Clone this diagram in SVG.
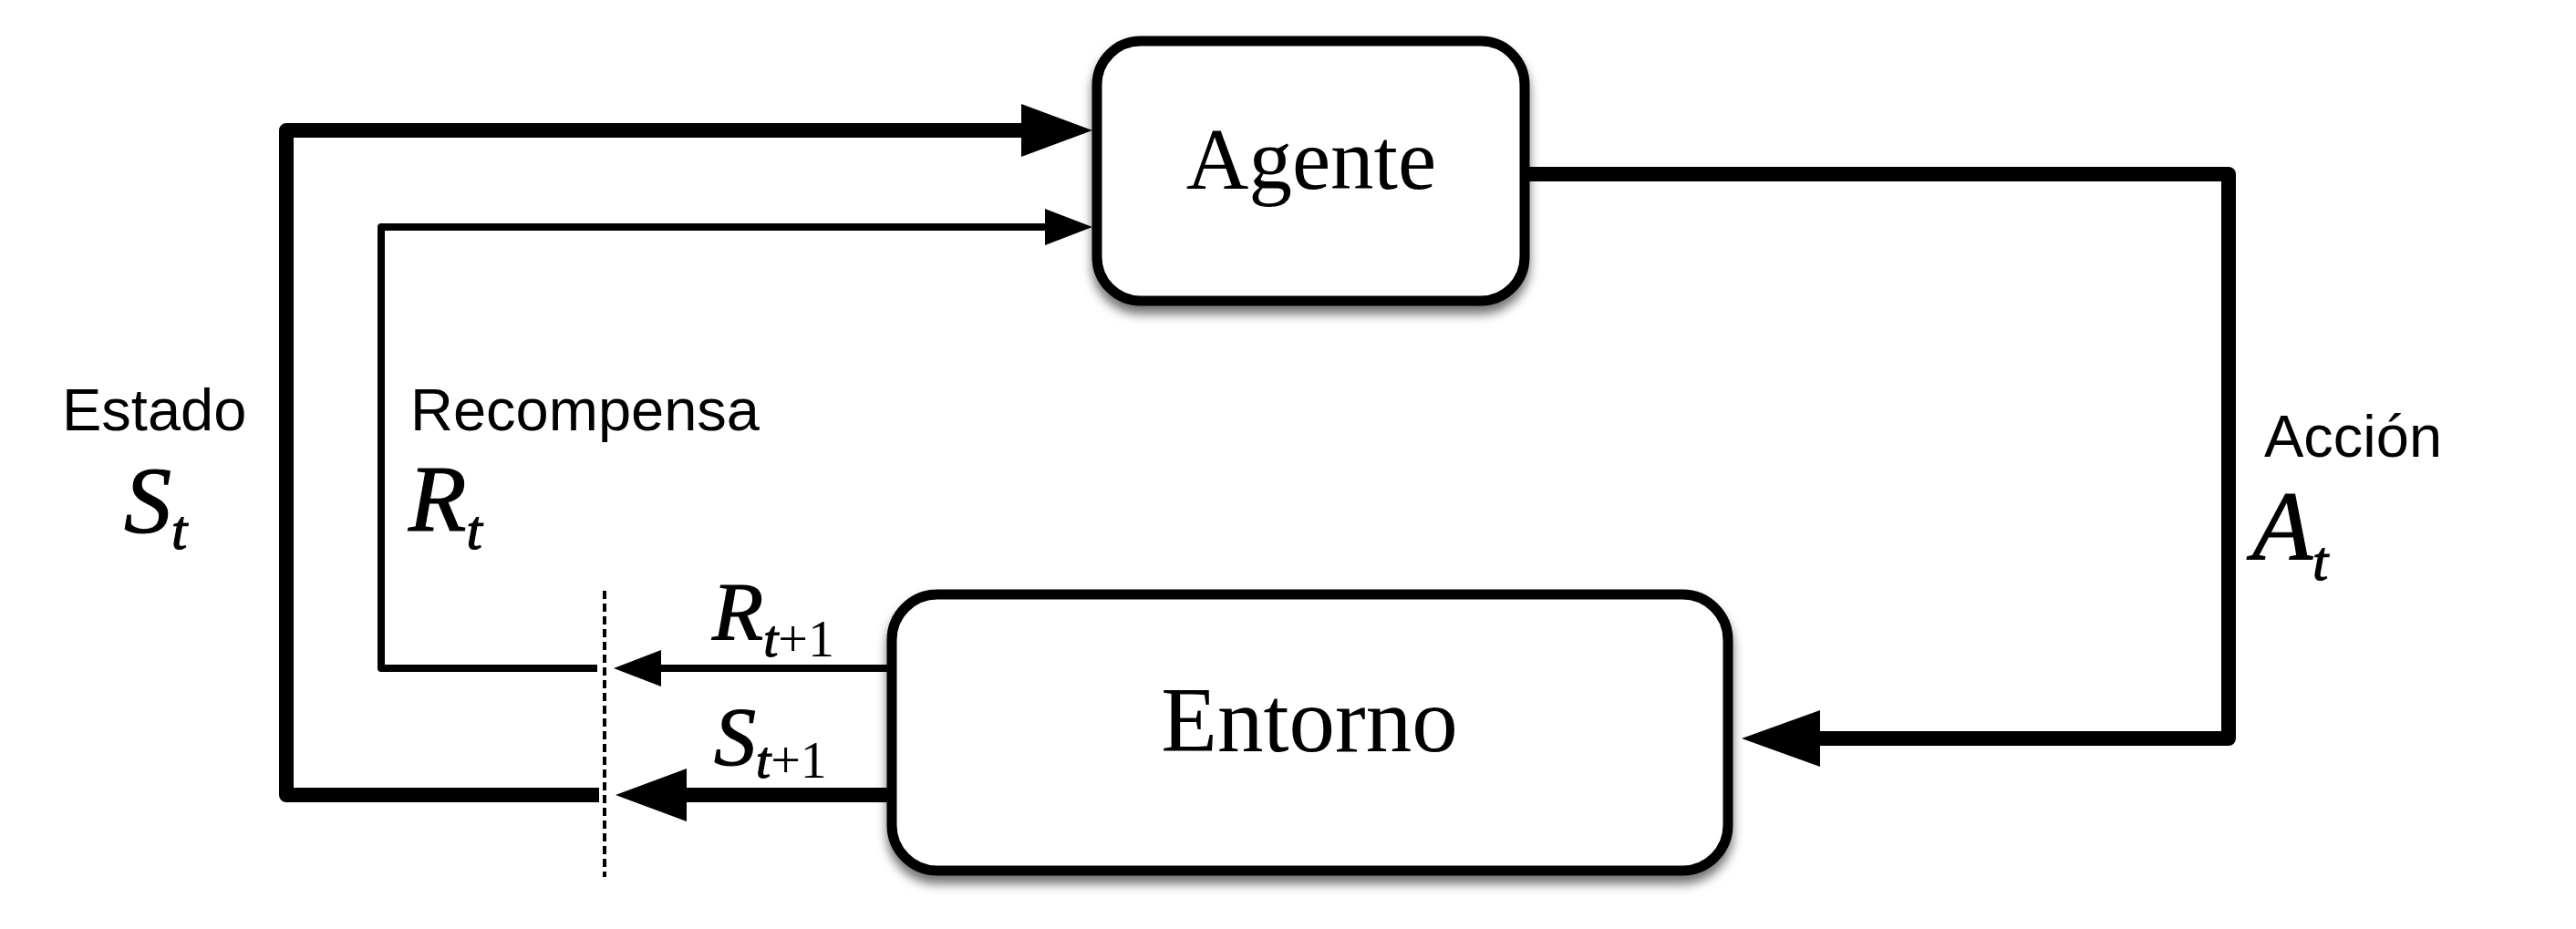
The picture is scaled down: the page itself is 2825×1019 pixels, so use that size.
<svg xmlns="http://www.w3.org/2000/svg" width="2825" height="1019" viewBox="0 0 2825 1019">
<style>
  .box { fill: #ffffff; stroke: #000000; stroke-width: 11; }
  .thick { fill: none; stroke: #000000; stroke-width: 16; stroke-linejoin: round; }
  .thin { fill: none; stroke: #000000; stroke-width: 8; stroke-linejoin: round; }
  .dash { fill: none; stroke: #000000; stroke-width: 4; stroke-dasharray: 9 5; }
  .node-label { font-family: "Liberation Serif", "Times New Roman", serif; font-size: 95px; fill: #000; text-anchor: middle; }
  .label { font-family: "Liberation Sans", Arial, sans-serif; font-size: 65px; fill: #000; }
  .math { font-family: "Liberation Serif", "Times New Roman", serif; font-style: italic; fill: #000; stroke: #000; stroke-width: 1.2; }
  .sub { font-family: "Liberation Serif", "Times New Roman", serif; fill: #000; }
</style>
<defs>
  <filter id="shadow" x="-10%" y="-10%" width="120%" height="130%">
    <feDropShadow dx="0" dy="9" stdDeviation="6" flood-color="#000" flood-opacity="0.55"/>
  </filter>
  <marker id="ah-l" markerUnits="userSpaceOnUse" viewBox="0 -32 80 64" markerWidth="80" markerHeight="64" refX="0" refY="0" orient="auto" overflow="visible">
    <path d="M0,-29 L78,0 L0,29 Z" fill="#000"/>
  </marker>
  <marker id="ah-xl" markerUnits="userSpaceOnUse" viewBox="0 -34 90 68" markerWidth="90" markerHeight="68" refX="0" refY="0" orient="auto" overflow="visible">
    <path d="M0,-31 L86,0 L0,31 Z" fill="#000"/>
  </marker>
  <marker id="ah-s" markerUnits="userSpaceOnUse" viewBox="0 -22 56 44" markerWidth="56" markerHeight="44" refX="0" refY="0" orient="auto" overflow="visible">
    <path d="M0,-20 L52,0 L0,20 Z" fill="#000"/>
  </marker>
</defs>
<rect width="2825" height="1019" fill="#ffffff"/>

<g id="connectors">
  <path class="thick" d="M 657 872 H 314 V 143 H 1120" marker-end="url(#ah-l)"/>
  <path class="thin" d="M 655 733 H 418 V 249 H 1146" marker-end="url(#ah-s)"/>
  <path class="thin" d="M 976 733 H 725" marker-end="url(#ah-s)"/>
  <path class="thick" d="M 976 872 H 753" marker-end="url(#ah-l)"/>
  <path class="thick" d="M 1672 191 H 2444 V 810 H 1996" marker-end="url(#ah-xl)"/>
  <line class="dash" x1="663" y1="648" x2="663" y2="962"/>
</g>

<g id="agente">
  <rect class="box" x="1203" y="45" width="469" height="285" rx="48" ry="48" filter="url(#shadow)"/>
  <text class="node-label" x="1438" y="207">Agente</text>
</g>

<g id="entorno">
  <rect class="box" x="978" y="652" width="917" height="303" rx="50" ry="50" filter="url(#shadow)"/>
  <text class="node-label" x="1436" y="824" style="font-size:101px">Entorno</text>
</g>

<g id="labels">
  <text class="label" x="68" y="472">Estado</text>
  <text x="136" y="584"><tspan class="math" font-size="104">S</tspan><tspan class="math" font-size="62" dy="18">t</tspan></text>
  <text class="label" x="450" y="472">Recompensa</text>
  <text x="448" y="582"><tspan class="math" font-size="104">R</tspan><tspan class="math" font-size="62" dy="20">t</tspan></text>
  <text class="label" x="2483" y="501">Acción</text>
  <text x="2470" y="614"><tspan class="math" font-size="108">A</tspan><tspan class="math" font-size="62" dy="22">t</tspan></text>
  <text x="781" y="702"><tspan class="math" font-size="92">R</tspan><tspan class="math" font-size="58" dy="18">t</tspan><tspan class="sub" font-size="58">+1</tspan></text>
  <text x="783" y="839"><tspan class="math" font-size="92">S</tspan><tspan class="math" font-size="58" dy="14">t</tspan><tspan class="sub" font-size="58">+1</tspan></text>
</g>
</svg>
